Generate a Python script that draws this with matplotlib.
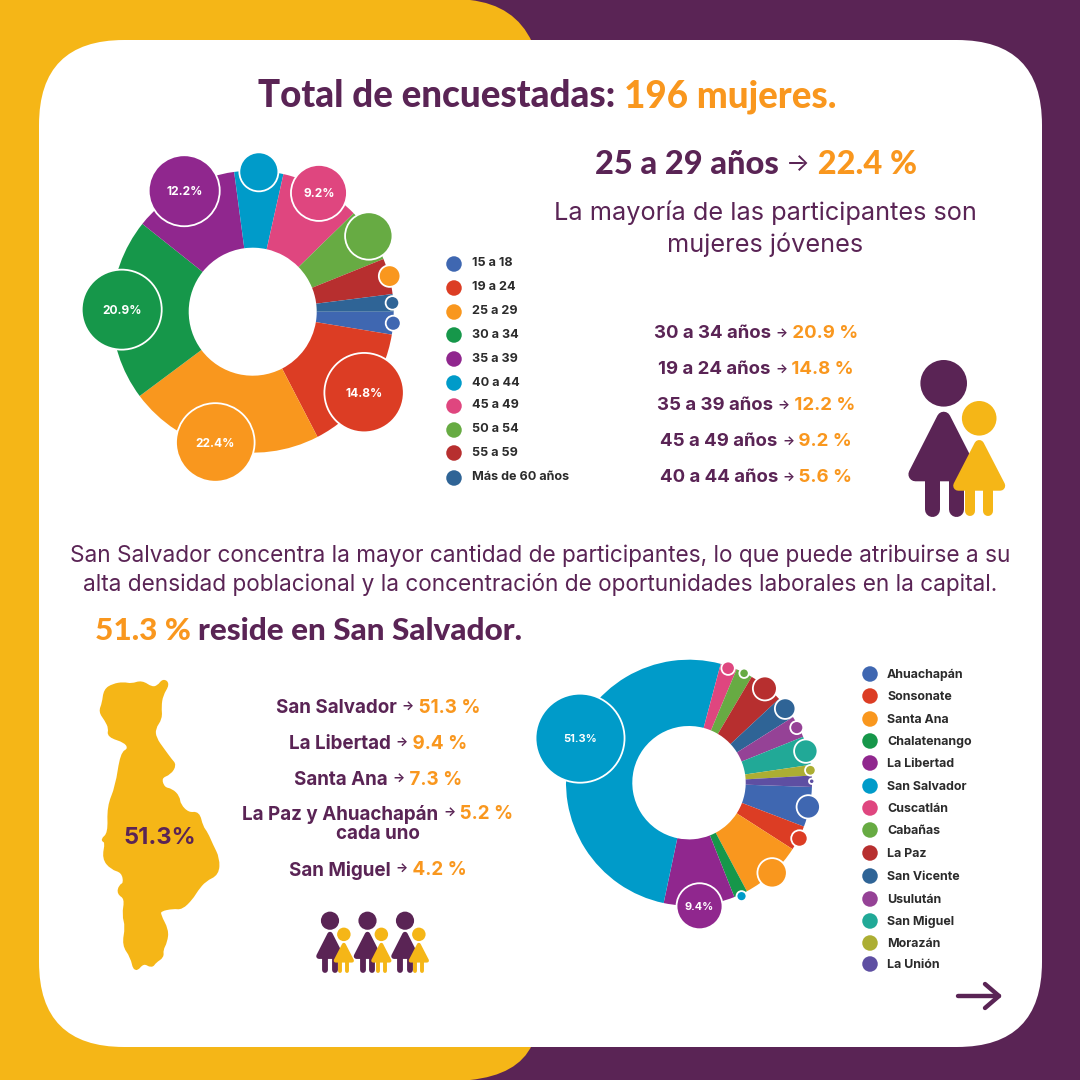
import numpy as np
import matplotlib
matplotlib.use("Agg")
import matplotlib.pyplot as plt
from matplotlib.patches import Circle, FancyBboxPatch, PathPatch, Polygon
from matplotlib.path import Path

MORADO = "#5A2455"
AMARILLO = "#F5B617"
NARANJA = "#F9971E"
GRIS = "#2B2B2B"

# datos edades
edades = ["15 a 18", "19 a 24", "25 a 29", "30 a 34", "35 a 39", "40 a 44",
          "45 a 49", "50 a 54", "55 a 59", "Más de 60 años"]
pct_edades = [2.6, 14.8, 22.4, 20.9, 12.2, 5.6, 9.2, 6.2, 4.1, 2.0]
etq_edades = ["", "14.8%", "22.4%", "20.9%", "12.2%", "", "9.2%", "", "", ""]
col_edades = ["#3F67B1", "#DC3D24", "#F9971E", "#16974A", "#90278E",
              "#009BC9", "#DF467F", "#67AB43", "#B72F2F", "#2F6496"]
# la burbuja de 55 a 59 va en naranja en el original
burb_edades = list(col_edades)
burb_edades[8] = "#F9971E"

# datos departamentos
deptos = ["Ahuachapán", "Sonsonate", "Santa Ana", "Chalatenango", "La Libertad",
          "San Salvador", "Cuscatlán", "Cabañas", "La Paz", "San Vicente",
          "Usulután", "San Miguel", "Morazán", "La Unión"]
pct_deptos = [5.3, 3.3, 8.2, 1.8, 9.4, 51.3, 2.2, 2.2, 4.6, 3.0, 2.9, 3.8, 1.4, 1.5]
etq_deptos = ["", "", "", "", "9.4%", "51.3%", "", "", "", "", "", "", "", ""]
col_deptos = ["#3F67B1", "#DC3D24", "#F9971E", "#16974A", "#90278E", "#009BC9",
              "#DF467F", "#67AB43", "#B72F2F", "#2F6496", "#954296", "#21A997",
              "#ACAE33", "#5E4FA2"]
burb_deptos = list(col_deptos)
burb_deptos[3] = "#009BC9"

# textos con porcentaje
lista_edades = [("30 a 34 años", "20.9 %"), ("19 a 24 años", "14.8 %"),
                ("35 a 39 años", "12.2 %"), ("45 a 49 años", "9.2 %"),
                ("40 a 44 años", "5.6 %")]
lista_deptos = [("San Salvador", "51.3 %"), ("La Libertad", "9.4 %"),
                ("Santa Ana", "7.3 %"), ("La Paz y Ahuachapán", "5.2 %"),
                ("San Miguel", "4.2 %")]

radios_edades = [7.5, 39.7, 39.3, 40, 35.5, 19.5, 28, 23.7, 10.8, 6.8]
dist_edades = [141, 137.7, 136, 131, 139, 140, 136, 138.6, 141.5, 140]
giro_edades = [0, 0, 3, 0, 0, 0, 0, 0, 0, 0]
radios_deptos = [11.7, 8.2, 14.7, 5, 23, 44.5, 6.7, 4.7, 12, 10.3, 6.5, 11.7, 5.3, 2.7]
dist_deptos = [121.7, 123.7, 122.6, 125, 124, 117.7, 121, 122.5, 121, 121.4, 121, 121, 122, 122.7]
giro_deptos = [0, 0, 0, 0, 0, 8.8, 0, 0, 0, 0, 0, 0, 0, 0]
y_leyenda_edades = [264, 288, 312, 335, 359, 383, 406, 430, 453, 478]
y_leyenda_deptos = [674, 696, 719, 741, 763, 786, 808, 830, 853, 876, 899, 921, 943, 964]

# silueta del departamento (recorte de zoom, 3x desde 80,670)
silueta = [(250, 30), (265, 42), (245, 75), (240, 110), (243, 145), (222, 175), (225, 205),
           (250, 240), (272, 270), (285, 285), (270, 310), (240, 322), (250, 355), (275, 360),
           (295, 380), (298, 405), (325, 432), (355, 428), (365, 470), (380, 490), (395, 525),
           (415, 565), (413, 612), (375, 630), (350, 660), (335, 685), (305, 715), (280, 712),
           (240, 720), (238, 735), (262, 780), (258, 815), (245, 840), (248, 860), (225, 875),
           (215, 890), (190, 875), (165, 905), (155, 860), (130, 825), (140, 770), (130, 735),
           (138, 685), (115, 670), (120, 648), (135, 640), (128, 605), (95, 595), (70, 565),
           (80, 515), (65, 510), (88, 490), (85, 410), (110, 350), (125, 250), (148, 238),
           (138, 215), (85, 198), (90, 175), (78, 150), (60, 125), (70, 100), (75, 60),
           (100, 45), (130, 40), (155, 45), (185, 35), (215, 55), (235, 50)]

FUENTE = ["Inter", "DejaVu Sans"]
FUENTE_TITULO = ["Lato", "DejaVu Sans"]
PX = 0.72  # pixeles a puntos con dpi 100

fig = plt.figure(figsize=(10.8, 10.8), dpi=100, facecolor=MORADO)
ax = fig.add_axes([0, 0, 1, 1])
ax.set_xlim(0, 1080)
ax.set_ylim(1080, 0)
ax.axis("off")
render = fig.canvas.get_renderer()

# fondo
codes = [Path.MOVETO, Path.LINETO, Path.CURVE3, Path.CURVE3, Path.LINETO,
         Path.CURVE3, Path.CURVE3, Path.LINETO, Path.CLOSEPOLY]
verts = [(0, 0), (470, 0), (515, 5), (532, 42), (532, 1045), (518, 1075), (470, 1080), (0, 1080), (0, 0)]
ax.add_patch(PathPatch(Path(verts, codes), fc=AMARILLO, ec="none"))
ax.add_patch(FancyBboxPatch((39, 40), 1003, 1007, boxstyle="round,pad=0,rounding_size=85",
                            fc="white", ec="none"))


def linea(y, partes, x=None, xc=None):
    # varias partes en un renglon: (texto, color, tamano, fuente, peso)
    textos = [ax.text(0, y, t.replace(" ", "\u00a0"), color=c, fontsize=s * PX, family=f, weight=w,
                      va="center_baseline", ha="left") for t, c, s, f, w in partes]
    anchos = [t.get_window_extent(render).width for t in textos]
    if x is None:
        x = xc - sum(anchos) / 2
    for t, a in zip(textos, anchos):
        t.set_x(x)
        x += a


def renglon(y, t, p, size=18.6, xc=756):
    linea(y, [(t + " ", MORADO, size, FUENTE, "bold"), ("→", MORADO, size * 0.68, FUENTE, "bold"),
              (" " + p, NARANJA, size, FUENTE, "bold")], xc=xc)


def dona(cx, cy, r_ext, r_int, valores, colores, burbujas, radios, dist, giro, etiquetas, size_etq, inicio=0):
    lado = r_ext * 1.5
    a = fig.add_axes([(cx - lado) / 1080, 1 - (cy + lado) / 1080, 2 * lado / 1080, 2 * lado / 1080])
    wedges, _ = a.pie(valores, colors=colores, radius=1, startangle=inicio, counterclock=False,
                      wedgeprops=dict(width=1 - r_int / r_ext, linewidth=0))
    a.set_xlim(-1.5, 1.5)
    a.set_ylim(-1.5, 1.5)
    a.patch.set_alpha(0)
    for w, col, r, d, g, etq in zip(wedges, burbujas, radios, dist, giro, etiquetas):
        ang = np.radians((w.theta1 + w.theta2) / 2 - g)
        bx, by = d / r_ext * np.cos(ang), d / r_ext * np.sin(ang)
        a.add_patch(Circle((bx, by), r / r_ext, fc=col, ec="white", lw=1.3, clip_on=False, zorder=5))
        if etq:
            a.text(bx, by, etq, color="white", fontsize=size_etq * PX, family=FUENTE, weight="bold",
                   ha="center", va="center_baseline", zorder=6)


def leyenda(x_c, x_t, ys, nombres, colores, size, dy):
    ax.scatter([x_c] * len(ys), ys, s=(15.5 * PX) ** 2, c=colores, linewidths=0)
    for y, n in zip(ys, nombres):
        ax.text(x_t, y + dy, n, color=GRIS, fontsize=size * PX, family=FUENTE, weight="bold", va="center")


def figura(x, y, k, col, cx, cab_y, r, ap, base, ancho, borde, piernas, gl, fin, z):
    # cabeza, cuerpo de triangulo redondeado y dos piernas
    for p in piernas:
        ax.plot([x + p * k] * 2, [y + (base - 6) * k, y + (fin - gl / 2) * k], color=col,
                lw=gl * k * PX, solid_capstyle="round", zorder=z)
    ax.add_patch(Circle((x + cx * k, y + cab_y * k), r * k, fc=col, ec="none", zorder=z))
    tri = [(x + cx * k, y + (ap + borde / 2) * k),
           (x + (cx - ancho + borde / 2) * k, y + (base - borde / 2) * k),
           (x + (cx + ancho - borde / 2) * k, y + (base - borde / 2) * k)]
    ax.add_patch(Polygon(tri, closed=True, fc=col, ec=col, lw=borde * k * PX, joinstyle="round", zorder=z))


def persona(x, y, k):
    # x,y = centro de la cabeza de la adulta
    figura(x, y, k, MORADO, 0, 0, 23.3, 28.4, 98, 35.3, 14, (-12, 12.3), 15, 132.7, 3)
    figura(x, y, k, AMARILLO, 35.5, 35, 17.3, 56.7, 107.4, 26, 10, (26.3, 44.6), 10, 132.7, 4)


# titulo
linea(93, [("Total de encuestadas: ", MORADO, 36.8, FUENTE_TITULO, "black"),
           ("196 mujeres.", NARANJA, 36.8, FUENTE_TITULO, "black")], xc=547)
linea(162, [("25 a 29 años ", MORADO, 32.6, FUENTE_TITULO, "black"),
            ("→", MORADO, 25, FUENTE, "normal"),
            (" 22.4 %", NARANJA, 32.6, FUENTE_TITULO, "black")], xc=756)
ax.text(765, 212.5, "La mayoría de las participantes son", color=MORADO, fontsize=25.3 * PX,
        family=FUENTE, ha="center", va="center")
ax.text(765, 245, "mujeres jóvenes", color=MORADO, fontsize=25.3 * PX, family=FUENTE, ha="center", va="center")

# primer grafico
dona(252.7, 311.7, 141, 64, pct_edades, col_edades, burb_edades, radios_edades, dist_edades,
     giro_edades, etq_edades, 12)
leyenda(454, 472, y_leyenda_edades, edades, col_edades, 12.6, -0.5)
for i, (t, p) in enumerate(lista_edades):
    renglon(332 + 36 * i, t, p)
persona(943.7, 383.3, 1)

# parrafo
ax.text(540, 555.5, "San Salvador concentra la mayor cantidad de participantes, lo que puede atribuirse a su",
        color=MORADO, fontsize=22.6 * PX, family=FUENTE, ha="center", va="center")
ax.text(540, 584.5, "alta densidad poblacional y la concentración de oportunidades laborales en la capital.",
        color=MORADO, fontsize=22.6 * PX, family=FUENTE, ha="center", va="center")
linea(629, [("51.3 % ", NARANJA, 31.5, FUENTE_TITULO, "black"),
            ("reside en San Salvador.", MORADO, 31.5, FUENTE_TITULO, "black")], x=95)

# silueta suavizada con curvas por los puntos medios
pts = np.array([(80 + a / 3, 670 + b / 3) for a, b in silueta])
medios = (pts + np.roll(pts, -1, axis=0)) / 2
v_sil = [medios[-1]]
c_sil = [Path.MOVETO]
for p, m in zip(pts, medios):
    v_sil += [p, m]
    c_sil += [Path.CURVE3, Path.CURVE3]
ax.add_patch(PathPatch(Path(v_sil, c_sil), fc=AMARILLO, ec=AMARILLO, lw=2, joinstyle="round"))
ax.text(160, 838, "51.3%", color=MORADO, fontsize=23.7 * PX, family=FUENTE, weight="bold", ha="center", va="center")
y_lista = [706, 742, 778, 812, 868]
for y, (t, p) in zip(y_lista, lista_deptos):
    renglon(y, t, p, size=18.8, xc=378)
ax.text(378, 834, "cada uno", color=MORADO, fontsize=18.8 * PX, family=FUENTE, weight="bold", ha="center", va="center")
for i in range(3):
    persona(330 + 37.5 * i, 920.7, 0.39)

# segundo grafico
dona(689, 782.7, 123, 56.7, pct_deptos, col_deptos, burb_deptos, radios_deptos, dist_deptos,
     giro_deptos, etq_deptos, 11, inicio=-2)
leyenda(870, 887, y_leyenda_deptos, deptos, col_deptos, 12.4, 1)

# flecha
ax.plot([958, 999], [996, 996], color=MORADO, lw=4 * PX * 1.1, solid_capstyle="round")
ax.plot([985, 999, 985], [984, 996, 1008], color=MORADO, lw=4 * PX * 1.1, solid_capstyle="round",
        solid_joinstyle="round")

fig.savefig("out.png", dpi=100, facecolor=MORADO)
